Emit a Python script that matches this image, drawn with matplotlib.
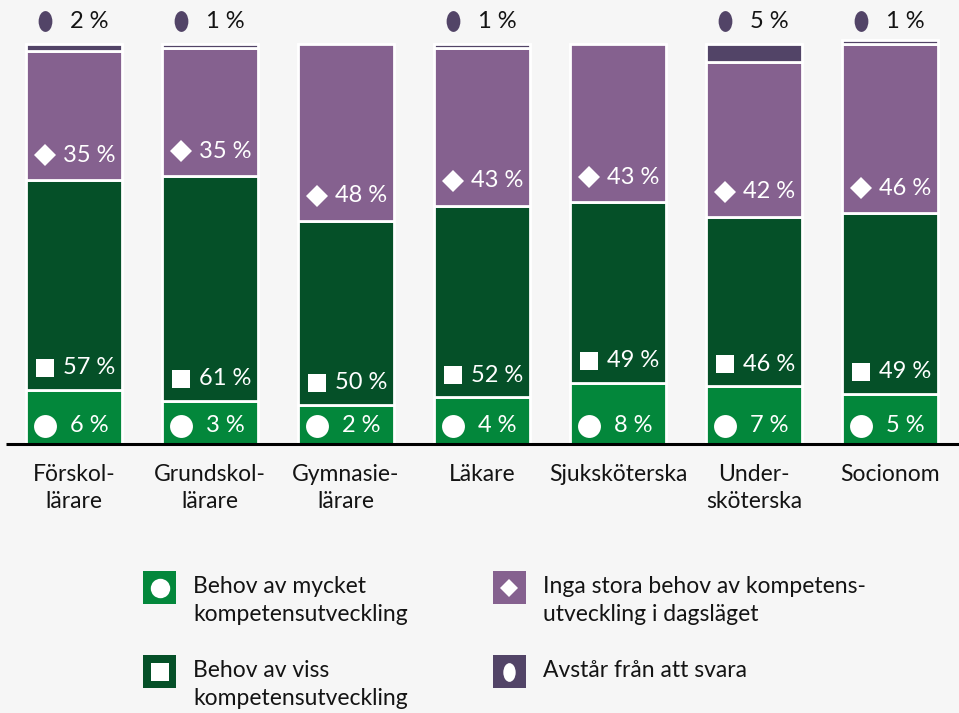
import matplotlib
matplotlib.use("Agg")
import matplotlib.pyplot as plt
import matplotlib.transforms as mtransforms
from matplotlib.patches import Rectangle
from matplotlib.path import Path
from matplotlib.markers import MarkerStyle
import numpy as np

plt.rcParams['font.family'] = ['Lato', 'DejaVu Sans']

# ---------------- data ----------------
categories = ["Förskol-\nlärare", "Grundskol-\nlärare", "Gymnasie-\nlärare", "Läkare",
              "Sjuksköterska", "Under-\nsköterska", "Socionom"]
mycket = [6, 3, 2, 4, 8, 7, 5]          # Behov av mycket kompetensutveckling
viss = [57, 61, 50, 52, 49, 46, 49]     # Behov av viss kompetensutveckling
inga = [35, 35, 48, 43, 43, 42, 46]     # Inga stora behov ...
avstar = [2, 1, 0, 1, 0, 5, 1]          # Avstår från att svara

series_names = ["Behov av mycket\nkompetensutveckling",
                "Behov av viss\nkompetensutveckling",
                "Inga stora behov av kompetens-\nutveckling i dagsläget",
                "Avstår från att svara"]

# ---------------- style ----------------
W, H = 959, 713
BG = "#F6F6F6"
C_LG = "#03873B"
C_DG = "#055028"
C_PU = "#85618F"
C_DP = "#524467"
TXT = "#141414"

fig = plt.figure(figsize=(W / 100, H / 100), dpi=100, facecolor=BG)
ax = fig.add_axes([0, 0, 1, 1], facecolor=BG)

# scale: value 0 at pixel 412 (from top), 3.68 px per percent
PX_PER = 3.68
ZERO_PX = 412
PAD = 32 / PX_PER       # lowest segment extends below zero by this
ax.set_ylim((ZERO_PX - H) / PX_PER, ZERO_PX / PX_PER)
ax.set_xlim(-74 / 136, (W - 74) / 136)
ax.axis('off')

x = np.arange(len(categories))
bw = 96 / 136
lw = 2.0

m = np.array(mycket, float)
v = np.array(viss, float)
g = np.array(inga, float)
a = np.array(avstar, float)

ax.bar(x, m + PAD, bottom=-PAD, width=bw, color=C_LG, edgecolor="white", linewidth=lw)
ax.bar(x, v, bottom=m, width=bw, color=C_DG, edgecolor="white", linewidth=lw)
ax.bar(x, g, bottom=m + v, width=bw, color=C_PU, edgecolor="white", linewidth=lw)
for i in range(len(x)):
    if a[i] > 0:
        ax.bar(x[i], a[i], bottom=m[i] + v[i] + g[i], width=bw, color=C_DP,
               edgecolor="white", linewidth=lw)

# axis baseline
ax.plot([-74 / 136 + 6 / 136, (W - 74) / 136], [-PAD, -PAD], color="black", lw=2.2,
        solid_capstyle="butt", zorder=5)

ellipse = Path.unit_circle().transformed(mtransforms.Affine2D().scale(0.66, 1.0))

LBL_FS = 17
MK_DX = -29   # px
TX_DX = 15    # px


def seg_label(xi, ybase, dy_px, marker, msize, value, tcolor="white", mcolor="white",
              trans_y=None):
    base = ax.transData if trans_y is None else trans_y
    mt = mtransforms.offset_copy(base, fig=fig, x=MK_DX, y=dy_px, units='dots')
    ax.plot([xi], [ybase], marker=marker, markersize=msize, color=mcolor,
            markeredgewidth=0, linestyle='none', transform=mt, zorder=6)
    tt = mtransforms.offset_copy(base, fig=fig, x=TX_DX, y=dy_px, units='dots')
    ax.text(xi, ybase, f"{value} %", transform=tt, ha='center', va='center',
            fontsize=LBL_FS, color=tcolor, zorder=6)


blend = mtransforms.blended_transform_factory(ax.transData, ax.transAxes)
for i in range(len(x)):
    seg_label(x[i], -PAD, 18, 'o', 16.5, mycket[i])
    seg_label(x[i], m[i], 22, 's', 13.3, viss[i])
    seg_label(x[i], m[i] + v[i], 25, 'D', 11.2, inga[i])
    if a[i] > 0:
        seg_label(x[i], 1 - 21 / H, 0, MarkerStyle(ellipse), 15, avstar[i],
                  tcolor=TXT, mcolor=C_DP, trans_y=blend)

# category labels
for i, c in enumerate(categories):
    ax.text(x[i], 1 - 464 / H, c, transform=blend,
            ha='center', va='top', multialignment='center', fontsize=16.5,
            color=TXT, linespacing=1.38)

# legend (figure pixel coordinates)
def fx(px):
    return px / W


def fy(py):
    return 1 - py / H


legend_items = [
    (143, 571, C_LG, 'o', 14.0, series_names[0]),
    (143, 655, C_DG, 's', 12.3, series_names[1]),
    (493, 571, C_PU, 'D', 9.5, series_names[2]),
    (493, 655, C_DP, MarkerStyle(ellipse), 13.5, series_names[3]),
]
for (lx, ly, col, mk, ms, name) in legend_items:
    fig.add_artist(Rectangle((fx(lx), fy(ly + 33)), 33 / W, 33 / H,
                             transform=fig.transFigure, facecolor=col, edgecolor='none'))
    fig.add_artist(plt.Line2D([fx(lx + 16.5)], [fy(ly + 16.5)], marker=mk, markersize=ms,
                              color='white', markeredgewidth=0, linestyle='none',
                              transform=fig.transFigure))
    fig.text(fx(lx + 50), fy(ly + 5), name, ha='left', va='top', fontsize=16.5,
             color=TXT, linespacing=1.42)

fig.savefig("out.png", dpi=100, facecolor=BG)
